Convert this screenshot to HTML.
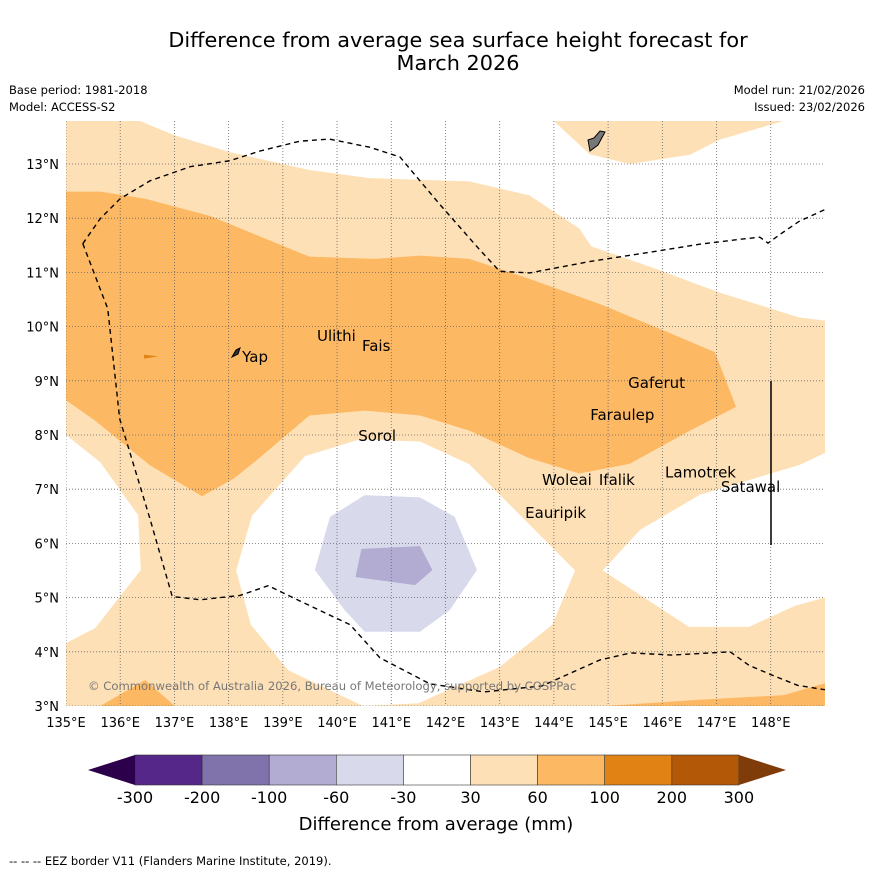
<!DOCTYPE html>
<html><head><meta charset="utf-8"><style>
body{margin:0;background:#fff;}
svg text{font-family:"DejaVu Sans","Liberation Sans",sans-serif;}
</style></head><body>
<svg id="c" width="873" height="873" xmlns="http://www.w3.org/2000/svg">
<rect width="873" height="873" fill="#fff"/>
<text x="458" y="47" font-size="20.8" text-anchor="middle">Difference from average sea surface height forecast for</text>
<text x="458" y="70" font-size="20.8" text-anchor="middle">March 2026</text>
<text x="9" y="94" font-size="11.5">Base period: 1981-2018</text>
<text x="9" y="111" font-size="11.5">Model: ACCESS-S2</text>
<text x="865" y="94" font-size="11.5" text-anchor="end">Model run: 21/02/2026</text>
<text x="865" y="111" font-size="11.5" text-anchor="end">Issued: 23/02/2026</text>
<g id="map"></g>
<g id="cb"></g>
<text x="436" y="830" font-size="18" text-anchor="middle">Difference from average (mm)</text>
<text x="9" y="865" font-size="11.5">--  --  -- EEZ border V11 (Flanders Marine Institute, 2019).</text>
</svg>
<script>
const lonTicks=[135,136,137,138,139,140,141,142,143,144,145,146,147,148];
const latTicks=[3,4,5,6,7,8,9,10,11,12,13];
const cbLevels=[-300,-200,-100,-60,-30,30,60,100,200,300];
const cbColors=["#542788","#8073ac","#b2abd2","#d8daeb","#ffffff","#fee0b6","#fdb863","#e08214","#b35806"];
const whiteTop=[[136.37,13.79],[137.0,13.53],[138.02,13.22],[139.49,12.89],[140.6,12.74],[142.44,12.68],[143.55,12.42],[144.47,11.81],[144.69,11.48],[145.76,11.11],[147.05,10.63],[148.52,10.17],[149,10.11],[149,13.8],[148.26,13.8],[147.06,13.45],[146.51,13.17],[145.4,13.0],[144.66,13.18],[143.99,13.8]];
const whiteLeft=[[135,8.0],[135.63,7.5],[136.33,6.52],[136.38,5.51],[135.54,4.44],[135,4.16]];
const whiteHole=[[138.14,5.5],[138.43,6.51],[139.41,7.61],[140.42,7.92],[141.53,7.88],[142.44,7.46],[143.18,6.72],[144.39,5.5],[143.97,4.5],[143.0,3.72],[141.5,3.05],[140.48,3.0],[139.1,3.66],[138.41,4.5]];
const whiteRight=[[144.9,5.5],[145.59,6.25],[146.7,6.9],[148.54,7.45],[149,7.67],[149,5.0],[148.45,4.85],[147.6,4.46],[146.49,4.46]];
const orangeMain=[[135,12.49],[135.63,12.49],[136.46,12.36],[137.66,12.04],[139.49,11.29],[140.69,11.25],[141.53,11.31],[142.44,11.25],[143.55,10.88],[144.84,10.42],[145.95,9.96],[146.97,9.53],[147.36,8.52],[146.51,8.08],[145.4,7.47],[144.47,7.29],[143.55,7.57],[142.44,8.08],[141.53,8.36],[140.51,8.45],[139.49,8.36],[138.56,7.57],[138.1,7.2],[137.51,6.87],[136.55,7.44],[135.53,8.27],[135,8.64]];
const orangeBL=[[135.63,3.0],[136.46,3.48],[137.01,3.0]];
const orangeBR=[[144.95,3.0],[146.6,3.11],[148.24,3.2],[149,3.42],[149,3.0]];
const orangeDot=[[136.44,9.48],[136.7,9.45],[136.44,9.41]];
const lilac=[[139.59,5.51],[139.87,6.49],[140.51,6.89],[141.53,6.85],[142.17,6.49],[142.58,5.51],[142.08,4.77],[141.53,4.37],[140.51,4.37],[140.14,4.77]];
const purple=[[140.45,5.9],[141.53,5.95],[141.76,5.51],[141.44,5.23],[140.34,5.38]];
const eez=[[135.31,11.53],[135.77,10.33],[135.99,8.3],[136.55,6.45],[136.96,5.02],[137.48,4.96],[138.21,5.04],[138.73,5.22],[139.31,4.94],[140.24,4.5],[140.79,3.89],[141.71,3.41],[142.71,3.26],[143.78,3.37],[144.85,3.85],[145.42,3.98],[146.17,3.94],[147.25,4.0],[147.6,3.75],[148.0,3.58],[148.5,3.38],[149,3.3]];
const eezTop=[[135.31,11.53],[135.63,11.99],[136.0,12.36],[136.55,12.69],[137.29,12.95],[138.02,13.06],[138.58,13.24],[139.31,13.42],[139.86,13.46],[140.6,13.31],[141.16,13.13],[141.89,12.26],[142.63,11.42],[143.0,11.02],[143.55,10.99],[144.66,11.2],[145.76,11.37],[146.69,11.52],[147.43,11.61],[147.8,11.65],[147.95,11.54],[148.17,11.7],[148.52,11.94],[149,12.16]];
const places=[["Ulithi",139.63,9.73],["Fais",140.46,9.55],["Yap",138.25,9.35],["Gaferut",145.37,8.87],["Faraulep",144.67,8.28],["Sorol",140.39,7.89],["Woleai",143.78,7.08],["Ifalik",144.83,7.08],["Lamotrek",146.05,7.22],["Satawal",147.08,6.95],["Eauripik",143.47,6.47]];
const NS="http://www.w3.org/2000/svg";
const X0=66,X1=825,Y0=706,Y1=121;
function px(lon){return X0+(lon-135)*54.21;}
function py(lat){return Y0-(lat-3)*54.2;}
function mk(t,a,p){const e=document.createElementNS(NS,t);for(const k in a)e.setAttribute(k,a[k]);p.appendChild(e);return e;}
const map=document.getElementById('map');
const clip=mk('clipPath',{id:'pc'},map);mk('rect',{x:X0,y:Y1,width:X1-X0,height:Y0-Y1},clip);
const g=mk('g',{'clip-path':'url(#pc)'},map);
const bg=mk('rect',{x:X0,y:Y1,width:X1-X0,height:Y0-Y1,fill:"#fee0b6"},g);


function poly(pts,fill,name){const e=mk('polygon',{points:pts.map(p=>px(p[0])+','+py(p[1])).join(' '),fill:fill},g);

return e;}
poly(whiteTop,"#fff","contour-white-north");
poly(whiteLeft,"#fff","contour-white-west");
poly(whiteHole,"#fff","contour-white-central");
poly(whiteRight,"#fff","contour-white-east");
poly(orangeMain,"#fdb863","contour-60-100");
poly(orangeBL,"#fdb863","contour-60-100-sw");
poly(orangeBR,"#fdb863","contour-60-100-se");
poly(orangeDot,"#e08214","contour-100-200-spot");
poly(lilac,"#d8daeb","contour-neg30-neg60");
poly(purple,"#b2abd2","contour-neg60-neg100");
const guam=mk('polygon',{points:"588,140 594,138 600,131 605,132 598,145 590,151",fill:"#777",stroke:"#000","stroke-width":1},g);


const yap=mk('polygon',{points:"232,357 236,350 240,348 238,354",fill:"#333",stroke:"#000","stroke-width":1},g);


lonTicks.forEach(l=>{const e=mk('line',{x1:px(l),x2:px(l),y1:Y1,y2:Y0,stroke:"#666","stroke-width":0.8,"stroke-dasharray":"1,2"},g);

});
latTicks.forEach(l=>{const e=mk('line',{x1:X0,x2:X1,y1:py(l),y2:py(l),stroke:"#666","stroke-width":0.8,"stroke-dasharray":"1,2"},g);

});
function pl(pts,name){const e=mk('polyline',{points:pts.map(p=>px(p[0])+','+py(p[1])).join(' '),fill:"none",stroke:"#000","stroke-width":1.4,"stroke-dasharray":"5,4"},g);

}
pl(eez,"eez-border-south");pl(eezTop,"eez-border-north");
const vl=mk('line',{x1:771,x2:771,y1:381,y2:545,stroke:"#000","stroke-width":1.5},g);


places.forEach(p=>{const t=mk('text',{x:px(p[1]),y:py(p[2]),'font-size':15},g);t.textContent=p[0];

});
const cp=mk('text',{x:88,y:690,'font-size':11.6,fill:"#777"},g);cp.textContent="© Commonwealth of Australia 2026, Bureau of Meteorology, supported by COSPPac";


lonTicks.forEach(l=>{const t=mk('text',{x:px(l),y:727,'font-size':13,'text-anchor':'middle'},map);t.textContent=l+"°E";

});
latTicks.forEach(l=>{const t=mk('text',{x:59,y:py(l)+5,'font-size':13,'text-anchor':'end'},map);t.textContent=l+"°N";

});
const cb=document.getElementById('cb');
const cx0=135,cw=67.1,cy=755,ch=30;
cbColors.forEach((c,i)=>{const r=mk('rect',{x:cx0+i*cw,y:cy,width:cw,height:ch,fill:c,stroke:"#333","stroke-width":0.6},cb);

});
const tl=mk('polygon',{points:`${cx0},${cy} 88,${cy+15} ${cx0},${cy+ch}`,fill:"#2d004b"},cb);


const xe=cx0+9*cw;
const tr=mk('polygon',{points:`${xe},${cy} 786,${cy+15} ${xe},${cy+ch}`,fill:"#7f3b08"},cb);


cbLevels.forEach((v,i)=>{const t=mk('text',{x:cx0+i*cw,y:803,'font-size':16,'text-anchor':'middle'},cb);t.textContent=v;

});
</script>
</body></html>
